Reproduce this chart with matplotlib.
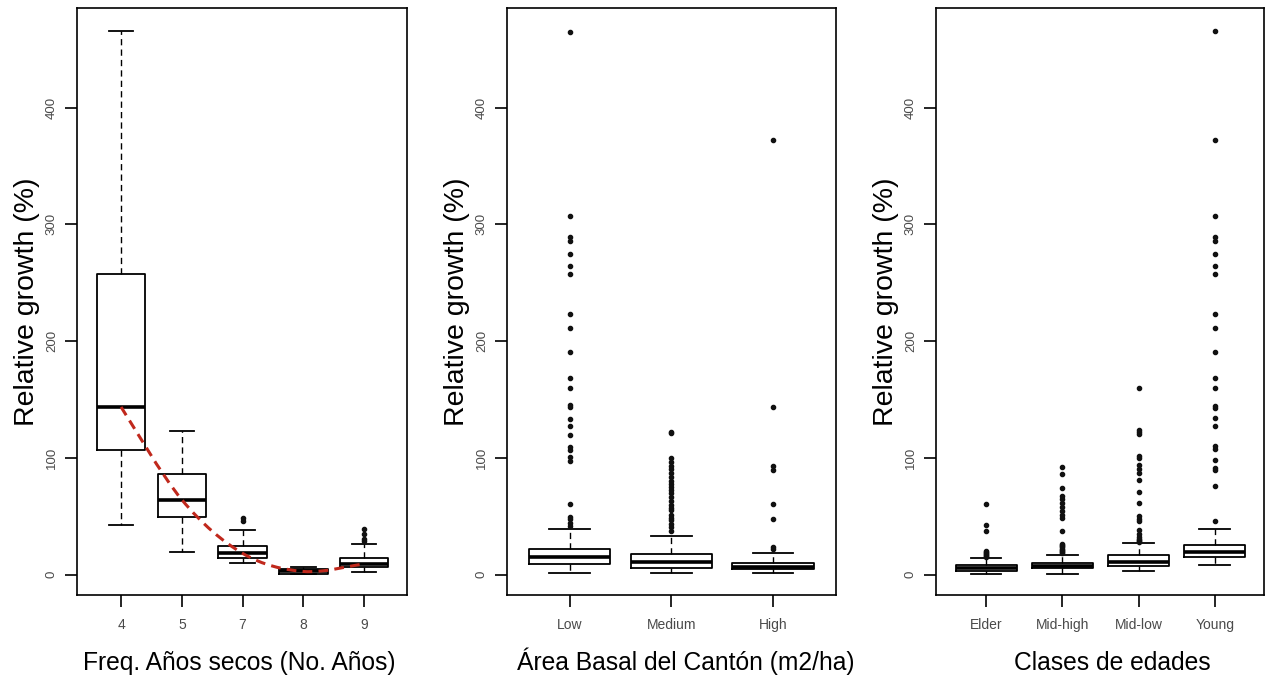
import matplotlib
matplotlib.use("Agg")
import matplotlib.pyplot as plt
from matplotlib.path import Path
from matplotlib.patches import PathPatch

plt.rcParams['font.family'] = ['Liberation Sans', 'DejaVu Sans']
plt.rcParams['lines.scale_dashes'] = False

# ---- data: [lower whisker, Q1, median, Q3, upper whisker] ----
drought_labels = ['4', '5', '7', '8', '9']
drought_stats = [
    [42.5, 106.5, 143.6, 257.4, 465.5],
    [19.2, 49.1, 64.2, 86.2, 122.8],
    [10.3, 14.6, 18.3, 24.8, 38.0],
    [0.3, 1.0, 2.8, 4.5, 6.8],
    [2.0, 6.6, 9.4, 14.6, 26.3],
]
drought_fliers = [
    [],
    [],
    [48.3, 46.2],
    [],
    [39.4, 34.8, 30.3, 29.1],
]

basal_labels = ['Low', 'Medium', 'High']
basal_stats = [
    [1.2, 9.2, 15.4, 22.0, 38.9],
    [1.2, 5.5, 10.6, 17.7, 33.1],
    [1.2, 4.8, 6.4, 10.3, 18.3],
]
basal_fliers = [
    [465.0, 307.0, 289.4, 285.4, 274.6, 264.5, 257.7, 223.2, 211.2, 190.9,
     168.7, 159.8, 145.0, 143.3, 133.6, 127.6, 119.3, 109.3, 107.0, 100.5,
     97.1, 60.5, 49.7, 47.4, 44.5, 41.7],
    [122.2, 121.0, 99.7, 96.5, 93.3, 90.2, 86.8, 83.5, 80.2, 77.7, 75.3,
     72.7, 70.2, 66.8, 63.4, 59.7, 57.5, 55.4, 51.1, 48.9, 46.8, 43.4,
     40.5, 37.7],
    [372.4, 143.6, 93.3, 89.9, 60.5, 47.4, 24.0, 22.3],
]

age_labels = ['Elder', 'Mid-high', 'Mid-low', 'Young']
age_stats = [
    [0.9, 3.2, 5.5, 8.6, 14.0],
    [0.9, 5.5, 7.6, 9.8, 17.1],
    [3.4, 7.7, 11.3, 16.6, 26.8],
    [8.0, 14.9, 19.2, 25.2, 38.9],
]
age_fliers = [
    [60.5, 42.3, 37.7, 20.3, 19.5, 18.8, 18.0, 17.2, 16.4, 15.6],
    [92.2, 86.5, 74.5, 67.4, 64.5, 61.7, 58.2, 54.8, 51.1, 48.3, 37.7,
     26.5, 25.4, 24.3, 23.4, 22.3, 21.1, 20.2, 19.4, 18.5],
    [160.0, 123.8, 122.1, 120.1, 101.5, 99.8, 93.8, 90.7, 87.3, 80.7, 70.7,
     61.0, 50.2, 47.9, 45.6, 38.2, 35.0, 32.2, 30.8, 29.7, 28.5, 27.6],
    [465.5, 372.4, 307.0, 289.4, 285.4, 274.6, 264.5, 257.7, 223.2, 211.2,
     190.9, 168.7, 159.8, 144.6, 142.9, 134.0, 127.5, 109.8, 107.5, 98.4,
     91.3, 89.3, 76.2, 46.2],
]

y_ticks = [0, 100, 200, 300, 400]

W, H = 1271, 679
fig = plt.figure(figsize=(W / 100, H / 100), dpi=100)
fig.patch.set_facecolor('white')

panels = [
    dict(left=76.7, right=406.7, labels=drought_labels, stats=drought_stats,
         fliers=drought_fliers, xlim=(0.27, 5.70),
         xlabel='Freq. Años secos (No. Años)', xlab_shift=-2),
    dict(left=506.7, right=836.0, labels=basal_labels, stats=basal_stats,
         fliers=basal_fliers, xlim=(0.38, 3.62),
         xlabel='Área Basal del Cantón (m2/ha)', xlab_shift=14),
    dict(left=935.7, right=1264.3, labels=age_labels, stats=age_stats,
         fliers=age_fliers, xlim=(0.34, 4.65),
         xlabel='Clases de edades', xlab_shift=12),
]

top_px, bottom_px = 8.0, 594.7
axes_h_px = bottom_px - top_px
tick_col = '#4a4a4a'

axes = []
for p in panels:
    axes_w_px = p['right'] - p['left']
    ax = fig.add_axes([p['left'] / W, 1 - bottom_px / H,
                       axes_w_px / W, axes_h_px / H])
    axes.append(ax)
    bstats = []
    for lab, s, fl in zip(p['labels'], p['stats'], p['fliers']):
        bstats.append(dict(label=lab, whislo=s[0], q1=s[1], med=s[2],
                           q3=s[3], whishi=s[4], fliers=fl))
    pos = list(range(1, len(bstats) + 1))
    ax.bxp(bstats, positions=pos, widths=0.8, capwidths=0.4,
           boxprops=dict(color='black', linewidth=1.3),
           medianprops=dict(color='black', linewidth=2.6,
                            solid_capstyle='butt'),
           whiskerprops=dict(color='black', linewidth=1.0,
                             linestyle=(0, (4.5, 3.0))),
           capprops=dict(color='black', linewidth=1.3),
           flierprops=dict(marker='o', markersize=3.0,
                           markerfacecolor='#111111',
                           markeredgecolor='#111111', linestyle='none'))
    ax.set_xlim(*p['xlim'])
    ax.set_ylim(-17.1, 485.2)
    ax.set_yticks(y_ticks)
    ax.set_yticklabels([str(v) for v in y_ticks], rotation=90, va='center')
    ax.set_xticks(pos)
    ax.set_xticklabels(p['labels'])
    ax.tick_params(axis='both', direction='out', length=8.5, width=1.2,
                   color='black', labelcolor=tick_col)
    ax.tick_params(axis='x', labelsize=10, pad=8)
    ax.tick_params(axis='y', labelsize=9.5, pad=5)
    for sp in ax.spines.values():
        sp.set_linewidth(1.2)
        sp.set_color('black')
    ax.set_ylabel('Relative growth (%)', fontsize=20.5, color='black')
    ax.yaxis.set_label_coords(-0.112, 0.5)
    ax.set_xlabel(p['xlabel'], fontsize=17.7, color='black', va='baseline')
    ax.xaxis.set_label_coords(0.5 + p['xlab_shift'] / axes_w_px,
                              -(670.0 - bottom_px) / axes_h_px)

# smoothed trend through the medians of the first panel (Catmull-Rom as Bezier)
ax0 = axes[0]
mx = list(range(1, len(drought_stats) + 1))
my = [s[2] for s in drought_stats]
verts = [(mx[0], my[0])]
codes = [Path.MOVETO]
n = len(mx)
for i in range(n - 1):
    p0 = (mx[i - 1], my[i - 1]) if i > 0 else (mx[i], my[i])
    p1 = (mx[i], my[i])
    p2 = (mx[i + 1], my[i + 1])
    p3 = (mx[i + 2], my[i + 2]) if i + 2 < n else p2
    c1 = (p1[0] + (p2[0] - p0[0]) / 6, p1[1] + (p2[1] - p0[1]) / 6)
    c2 = (p2[0] - (p3[0] - p1[0]) / 6, p2[1] - (p3[1] - p1[1]) / 6)
    verts += [c1, c2, p2]
    codes += [Path.CURVE4] * 3
trend = PathPatch(Path(verts, codes), facecolor='none', edgecolor='#c0281c',
                  linewidth=2.2, linestyle=(0, (7.0, 4.5)), zorder=5)
ax0.add_patch(trend)

fig.savefig('out.png', dpi=100, facecolor='white')
